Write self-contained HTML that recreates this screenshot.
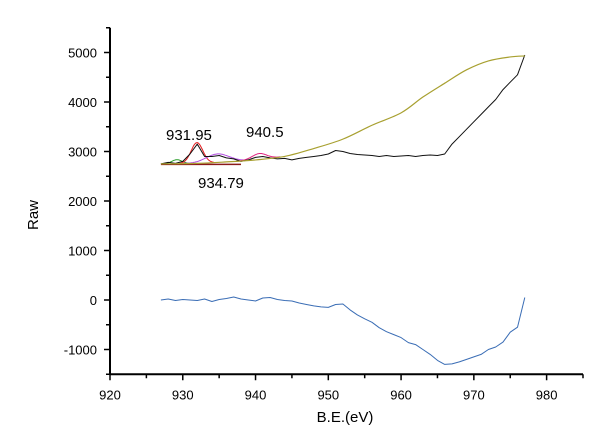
<!DOCTYPE html>
<html><head><meta charset="utf-8"><style>
body{margin:0;background:#fff}
svg{display:block;font-family:"Liberation Sans",Arial,sans-serif}
</style></head><body>
<svg id="chart" width="600" height="439"></svg>
<script>
const rawX=[927,928,929,930,931,932,933,934,935,936,937,938,939,940,941,942,943,944,945,946,947,948,949,950,951,952,953,954,955,956,957,958,959,960,961,962,963,964,965,966,967,968,969,970,971,972,973,974,975,976,977];
const rawY=[2750,2780,2760,2800,2950,3150,2900,2900,2920,2870,2850,2800,2830,2880,2900,2870,2850,2860,2830,2860,2880,2900,2920,2950,3020,3000,2960,2940,2930,2920,2900,2920,2900,2910,2920,2900,2920,2930,2920,2950,3150,3300,3450,3600,3750,3900,4050,4250,4400,4550,4950];
const bgX=[927,932,936,940,944,948,952,956,960,963,966,969,972,975,977];
const bgY=[2750,2760,2790,2830,2900,3060,3250,3530,3780,4100,4380,4650,4830,4910,4930];
const diffX=[927,928,929,930,931,932,933,934,935,936,937,938,939,940,941,942,943,944,945,946,947,948,949,950,951,952,953,954,955,956,957,958,959,960,961,962,963,964,965,966,967,968,969,970,971,972,973,974,975,976,977];
const diffY=[0,20,-10,10,0,-10,20,-30,10,30,60,20,0,-20,40,50,10,-10,-20,-60,-90,-120,-140,-150,-90,-80,-200,-300,-380,-450,-560,-640,-700,-760,-860,-900,-1000,-1100,-1220,-1300,-1290,-1250,-1200,-1150,-1100,-1000,-950,-850,-650,-550,50];
const peakC=[929.2,931.95,934.79,940.5];
const peakH=[80,420,170,120];
const peakW=[0.7,0.8,1.6,1.0];
const peakColors=["#2a9d2a","#e31a1c","#b04ae0","#e0207f"];
const xTicks=[920,930,940,950,960,970,980];
const yTicks=[-1000,0,1000,2000,3000,4000,5000];

const svg=document.getElementById('chart');
const NS="http://www.w3.org/2000/svg";
const X0=110,X1=583,Y0=374.25,Y1=27.75,xmin=920,xmax=985,ymin=-1500,ymax=5500;
const sx=v=>X0+(v-xmin)/(xmax-xmin)*(X1-X0);
const sy=v=>Y0-(v-ymin)/(ymax-ymin)*(Y0-Y1);
function mk(tag,attrs){const e=document.createElementNS(NS,tag);for(const k in attrs)e.setAttribute(k,attrs[k]);svg.appendChild(e);return e;}
function interp(xs,ys,x){for(let i=0;i<xs.length-1;i++){if(x>=xs[i]&&x<=xs[i+1]){const t=(x-xs[i])/(xs[i+1]-xs[i]);return ys[i]+t*(ys[i+1]-ys[i]);}}return ys[ys.length-1];}
function poly(xs,ys,color,name,w){
  const p=mk('polyline',{points:xs.map((x,i)=>sx(x).toFixed(1)+','+sy(ys[i]).toFixed(1)).join(' '),fill:'none',stroke:color,'stroke-width':w||1,'stroke-linejoin':'round'});
  
  
}
function smooth(xs,ys,color,name,w){
  const P=xs.map((x,i)=>[sx(x),sy(ys[i])]);
  let d='M'+P[0][0]+','+P[0][1];
  for(let i=0;i<P.length-1;i++){const p0=P[Math.max(0,i-1)],p1=P[i],p2=P[i+1],p3=P[Math.min(P.length-1,i+2)];
    d+=' C'+(p1[0]+(p2[0]-p0[0])/6)+','+(p1[1]+(p2[1]-p0[1])/6)+' '+(p2[0]-(p3[0]-p1[0])/6)+','+(p2[1]-(p3[1]-p1[1])/6)+' '+p2[0]+','+p2[1];}
  const p=mk('path',{d:d,fill:'none',stroke:color,'stroke-width':w||1});
  
  
}
let a=mk('line',{x1:X0,y1:Y1,x2:X0,y2:Y0,stroke:'#000','stroke-width':2});


a=mk('line',{x1:X0,y1:Y0,x2:X1,y2:Y0,stroke:'#000','stroke-width':2});


for(let v=ymin;v<=ymax;v+=500){const major=v%1000===0;mk('line',{x1:X0-(major?6:4),y1:sy(v),x2:X0,y2:sy(v),stroke:'#000','stroke-width':1.5});}
for(let v=xmin;v<=xmax;v+=5){const major=v%10===0;mk('line',{x1:sx(v),y1:Y0,x2:sx(v),y2:Y0+(major?6:4),stroke:'#000','stroke-width':1.5});}
yTicks.forEach(v=>{const t=mk('text',{x:97,y:sy(v)+5,'text-anchor':'end','font-size':13});t.textContent=v;

});
xTicks.forEach(v=>{const t=mk('text',{x:sx(v),y:Y0+25,'text-anchor':'middle','font-size':13});t.textContent=v;

});
let t=mk('text',{x:345,y:422,'text-anchor':'middle','font-size':15});t.textContent='B.E.(eV)';


t=mk('text',{x:38,y:215,'text-anchor':'middle','font-size':15,transform:'rotate(-90 38 215)'});t.textContent='Raw';


peakC.forEach((c,k)=>{const xs=[],ys=[];for(let x=c-3*peakW[k];x<=c+3*peakW[k];x+=0.1){xs.push(x);ys.push(interp(bgX,bgY,x)+peakH[k]*Math.exp(-Math.pow((x-c)/peakW[k],2)/2));}
poly(xs,ys,peakColors[k],'fit-peak-'+k,1);});
const bl=mk('line',{x1:sx(927),y1:sy(2740),x2:sx(938),y2:sy(2740),stroke:'#8b1a1a','stroke-width':1.5});


poly(rawX,rawY,'#111','raw-spectrum',1);
smooth(bgX,bgY,'#a8a030','shirley-background',1.2);
poly(diffX,diffY,'#3a6db5','difference-curve',1);
[['931.95',166,140],['940.5',246,137],['934.79',198,188]].forEach(([s,x,y])=>{const e=mk('text',{x:x,y:y,'font-size':15});e.textContent=s;

});
</script>
</body></html>
